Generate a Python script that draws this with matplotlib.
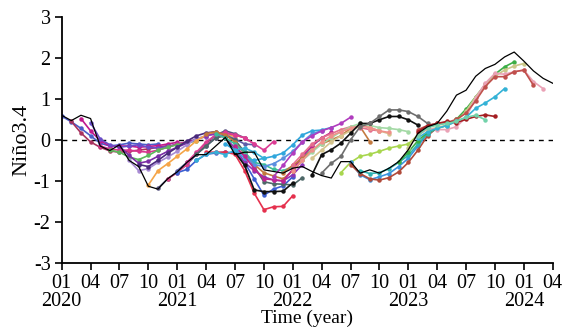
import matplotlib
matplotlib.use("Agg")
import matplotlib.pyplot as plt
import numpy as np

# ---------------- data ----------------
month_labels = ["01", "04", "07", "10"]
years = [2020, 2021, 2022, 2023, 2024]
n_months = 52  # Jan 2020 .. Apr 2024

obs = [0.60, 0.47, 0.60, 0.52, -0.15, -0.26, -0.12, -0.50, -0.65, -1.13, -1.20, -0.95,
       -0.78, -0.55, -0.36, -0.36, -0.15, 0.06, -0.36, -0.30, -0.30, -0.73, -0.77, -0.81,
       -0.69, -0.65, -0.77, -0.87, -0.93, -0.53, -0.53, -0.81, -0.73, -0.81, -0.69, -0.53,
       -0.24, 0.16, 0.32, 0.40, 0.70, 1.09, 1.21, 1.55, 1.74, 1.84, 2.02, 2.14,
       1.92, 1.68, 1.50, 1.38]

f01 = [0.58, 0.44, 0.28, 0.10, -0.08, -0.15, -0.12, -0.08, -0.10, -0.12, -0.10]
f02 = [0.45, 0.17, -0.05, -0.18, -0.27, -0.30, -0.28, -0.25, -0.22, -0.18, -0.14]
f03 = [0.52, 0.22, -0.02, -0.15, -0.15, -0.15, -0.18, -0.16, -0.14, -0.10, -0.06]
f04 = [0.42, 0.02, -0.12, -0.18, -0.15, -0.12, -0.18, -0.20, -0.16, -0.10, -0.05]
f05 = [-0.15, -0.22, -0.25, -0.25, -0.28, -0.30, -0.25, -0.18, -0.10, -0.05, 0.00]
f06 = [-0.25, -0.30, -0.42, -0.48, -0.38, -0.25, -0.18, -0.12, -0.08, -0.02]
f07 = [-0.15, -0.38, -0.57, -0.52, -0.40, -0.28, -0.18, -0.08, 0.02, 0.08]
f08 = [-0.50, -0.75, -0.70, -0.55, -0.42, -0.28, -0.12, 0.03, 0.10, 0.14]
f09 = [-0.60, -0.65, -0.50, -0.33, -0.18, -0.03, 0.10, 0.17, 0.20]
f10 = [-1.10, -0.75, -0.58, -0.40, -0.22, -0.02, 0.12, 0.17, 0.14, 0.08]
f11 = [-1.18, -0.95, -0.78, -0.60, -0.35, -0.08, 0.12, 0.22, 0.15, 0.05]
f12 = [-0.95, -0.80, -0.60, -0.32, -0.12, 0.05, 0.16, 0.12, 0.05, -0.10]
f13 = [-0.75, -0.55, -0.35, -0.15, 0.05, 0.12, 0.02, -0.10, -0.12]
f14 = [-0.55, -0.30, -0.05, 0.12, 0.18, 0.12, 0.05, -0.10, -0.25, -0.04]
f15 = [-0.80, -0.72, -0.50, -0.35, -0.32, -0.30, -0.32, -0.55, -0.95, -1.35, -1.20, -1.12, -0.90]
f16 = [-0.30, -0.30, -0.30, -0.35, -0.75, -1.30, -1.70, -1.63, -1.62, -1.36]
f17 = [-0.35, -0.15, 0.05, 0.10, 0.00, -0.30, -0.65, -1.02, -1.07, -1.08, -1.10, -0.92]
f18 = [0.10, 0.15, 0.05, -0.20, -0.55, -0.75, -0.90, -0.98, -1.00, -0.85, -0.60]
f19 = [0.15, 0.20, 0.12, -0.05, -0.35, -0.60, -0.80, -0.88, -0.95, -0.75, -0.50]
f20 = [0.05, -0.30, -0.62, -1.22, -1.26, -1.26, -1.25, -1.05]
f21 = [0.15, 0.05, -0.10, -0.30, -0.55, -0.60, -0.72, -0.75, -0.65, -0.45, -0.15, 0.05]
f22 = [-0.10, -0.25, -0.45, -0.50, -0.45, -0.40, -0.32, -0.12, 0.12, 0.22, 0.24, 0.30]
f23 = [-0.20, -0.40, -0.60, -0.65, -0.58, -0.45, -0.28, -0.05, 0.15, 0.22]
f24 = [-0.15, -0.40, -0.70, -0.95, -0.97, -1.00, -0.72, -0.40, -0.15, 0.05, 0.18]
f25 = [-0.50, -0.35, -0.30, -0.36, -0.25, -0.20, -0.30, -0.45]
f26 = [-0.90, -0.62, -0.32, -0.05, 0.10, 0.22, 0.30, 0.40, 0.55]
f27 = [-0.80, -0.62, -0.45, -0.25, -0.10, 0.00, 0.10, 0.28, 0.32, -0.04]
f28 = [-0.60, -0.35, -0.10, 0.05, 0.15, 0.25, 0.32, 0.30, 0.25, 0.22]
f29 = [-0.50, -0.30, -0.10, 0.05, 0.20, 0.32, 0.40, 0.35, 0.30, 0.28, 0.25, 0.20]
f30 = [-0.45, -0.25, -0.05, 0.10, 0.22, 0.35, 0.30, 0.22, 0.15]
f31 = [-0.75, -0.50, -0.25, -0.05, 0.10, 0.20, 0.28, 0.35, 0.30, 0.22, 0.18]
f32 = [-0.85, -0.36, -0.24, -0.08, 0.16, 0.40, 0.40, 0.49, 0.57, 0.57, 0.49, 0.36]
f33 = [-0.81, -0.57, -0.40, 0.00, 0.32, 0.40, 0.57, 0.73, 0.73, 0.69, 0.57, 0.40]
f34 = [-0.80, -0.55, -0.40, -0.35, -0.28, -0.20, -0.15, -0.10, 0.12, 0.28]
f35 = [-0.55, -0.85, -0.97, -0.90, -0.82, -0.65, -0.45, -0.15, 0.15, 0.28]
f36 = [-0.60, -0.82, -0.95, -0.98, -0.92, -0.78, -0.55, -0.25, 0.10, 0.30]
f37 = [-0.75, -0.82, -0.80, -0.70, -0.55, -0.38, -0.10, 0.15, 0.28]
f38 = [-0.55, -0.30, -0.02, 0.18, 0.28, 0.35, 0.50, 0.75, 1.05, 1.35, 1.60, 1.78, 1.90]
f39 = [-0.20, 0.15, 0.25, 0.30, 0.35, 0.45, 0.70, 1.05, 1.35, 1.55, 1.70, 1.80, 1.86]
f40 = [0.10, 0.28, 0.25, 0.25, 0.32, 0.55, 1.02, 1.38, 1.62, 1.60, 1.66, 1.70, 1.42, 1.25]
f41 = [0.25, 0.35, 0.40, 0.42, 0.50, 0.65, 0.95, 1.30, 1.54, 1.54, 1.66, 1.70, 1.33]
f42 = [0.05, 0.20, 0.28, 0.35, 0.45, 0.55, 0.77, 0.90, 1.05, 1.25]
f43 = [0.20, 0.35, 0.40, 0.45, 0.42, 0.50, 0.57, 0.61, 0.57]
f44 = [0.10, 0.30, 0.36, 0.40, 0.45, 0.55, 0.60, 0.49]

forecasts = [f01, f02, f03, f04, f05, f06, f07, f08, f09, f10, f11, f12, f13, f14,
             f15, f16, f17, f18, f19, f20, f21, f22, f23, f24, f25, f26, f27, f28,
             f29, f30, f31, f32, f33, f34, f35, f36, f37, f38, f39, f40, f41, f42,
             f43, f44]
fc_start = [0, 1, 2, 3, 4, 5, 6, 7, 8, 9, 10, 11, 12, 13,
            12, 15, 14, 15, 15, 17, 16, 17, 18, 18, 14, 22, 23, 24,
            25, 26, 24, 26, 27, 29, 30, 30, 31, 35, 36, 37, 37, 37,
            37, 37]

# ---------------- styles ----------------
fc_colors = ["#4a5cc8", "#a8325e", "#c0198e", "#6a4cc8", "#d8348e", "#5cb85c", "#7a2da6",
             "#a88bd4", "#4a2a7c", "#f5a548", "#54507e", "#e04488", "#5e5ea8", "#dc3c94",
             "#3c5fd1", "#e5304d", "#4e6868", "#8b35b5", "#c27a3c", "#111111", "#3dbd9a",
             "#30a6dc", "#5b8fe0", "#c0248f", "#35b0d8", "#b03cbe", "#c47a40", "#e5708e",
             "#a3d9a5", "#d4c48e", "#f0908a", "#111111", "#6e6e6e", "#a8d64e", "#3a95e0",
             "#b04a3a", "#2fb3b3", "#3cae46", "#cbc88a", "#eaa2b6", "#c0504c", "#34b2d6",
             "#a41e22", "#72d2aa"]

plt.rcParams["font.family"] = ["Liberation Serif", "DejaVu Serif"]

fig = plt.figure(figsize=(5.67, 3.31), dpi=100)
ax = fig.add_axes([0.1088, 0.2054, 0.866, 0.744])

ax.axhline(0, color="black", lw=1.0, ls=(0, (3.5, 3.5)), zorder=1)

for vals, s, c in zip(forecasts, fc_start, fc_colors):
    x = np.arange(s, s + len(vals))
    ax.plot(x, vals, color=c, lw=1.2, marker="o", ms=2.2, mec=c, mfc=c, zorder=2)

ax.plot(np.arange(len(obs)), obs, color="black", lw=0.9, zorder=3)

ax.set_xlim(0, n_months - 1)
ax.set_ylim(-3, 3)
ticks = np.arange(0, n_months, 3)
labels = []
for t in ticks:
    lab = month_labels[(t // 3) % 4]
    if t % 12 == 0:
        lab = lab + "\n" + str(years[t // 12])
    labels.append(lab)
ax.set_xticks(ticks)
ax.set_xticklabels(labels)
for t in ax.get_xticklabels():
    t.set_linespacing(0.95)
ax.set_yticks([-3, -2, -1, 0, 1, 2, 3])
ax.set_yticklabels(["-3", "-2", "-1", "0", "1", "2", "3"])
ax.tick_params(direction="out", length=5, width=1.2, labelsize=14.5, pad=3)
ax.spines["top"].set_visible(False)
ax.spines["right"].set_visible(False)
ax.spines["left"].set_linewidth(1.3)
ax.spines["bottom"].set_linewidth(1.3)
ax.set_xlabel("Time (year)", fontsize=14, labelpad=-1)
ax.set_ylabel("Niño3.4", fontsize=16, labelpad=2)

fig.savefig("out.png", dpi=100)
